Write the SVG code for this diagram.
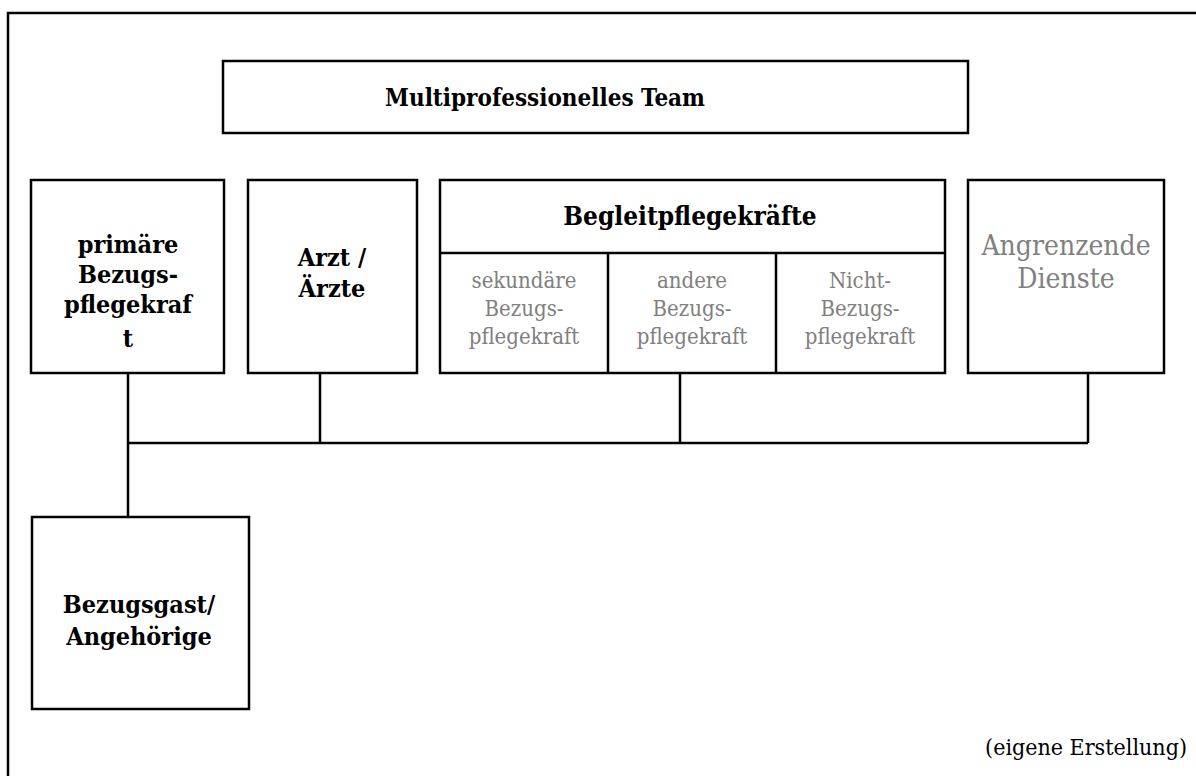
<svg xmlns="http://www.w3.org/2000/svg" width="1196" height="776" viewBox="0 0 1196 776">
<style>
.box{fill:#fff;stroke:#000;stroke-width:2.5}
.ln{fill:none;stroke:#000;stroke-width:2.5}
text{font-family:'DejaVu Serif Condensed','DejaVu Serif',serif;font-stretch:condensed}
.b{font-weight:bold;font-size:25px;fill:#000;text-anchor:middle}
.g{font-size:22px;fill:#808080;text-anchor:middle}
.g2{font-size:28px;fill:#808080;text-anchor:middle}
.n{font-size:23px;fill:#000;text-anchor:end}
</style>
<rect x="0" y="0" width="1196" height="776" fill="#fff"/>
<rect x="8" y="13" width="1200" height="800" class="box"/>
<g id="connectors">
<path class="ln" d="M128 373V517M128 443H1088M320 373V443M680 373V443M1088 373V443"/>
</g>
<g id="team">
<rect x="223" y="61" width="745" height="72" class="box"/>
<text x="545" y="106" class="b" style="font-size:24px">Multiprofessionelles Team</text>
</g>
<g id="primaer">
<rect x="31" y="180" width="193" height="193" class="box"/>
<text class="b" x="128" y="253">primäre</text>
<text class="b" x="128" y="283">Bezugs-</text>
<text class="b" x="128" y="313">pflegekraf</text>
<text class="b" x="128" y="347">t</text>
</g>
<g id="arzt">
<rect x="248" y="180" width="169" height="193" class="box"/>
<text class="b" x="332" y="266">Arzt /</text>
<text class="b" x="332" y="297">Ärzte</text>
</g>
<g id="begleit">
<rect x="440" y="180" width="505" height="193" class="box"/>
<path class="ln" d="M440 253H945M608 253V373M776 253V373"/>
<text class="b" x="690" y="225" style="font-size:26px">Begleitpflegekräfte</text>
<text class="g" x="524" y="288">sekundäre</text>
<text class="g" x="524" y="316">Bezugs-</text>
<text class="g" x="524" y="344">pflegekraft</text>
<text class="g" x="692" y="288">andere</text>
<text class="g" x="692" y="316">Bezugs-</text>
<text class="g" x="692" y="344">pflegekraft</text>
<text class="g" x="860" y="288">Nicht-</text>
<text class="g" x="860" y="316">Bezugs-</text>
<text class="g" x="860" y="344">pflegekraft</text>
</g>
<g id="dienste">
<rect x="968" y="180" width="196" height="193" class="box"/>
<text class="g2" x="1066" y="255">Angrenzende</text>
<text class="g2" x="1066" y="288">Dienste</text>
</g>
<g id="gast">
<rect x="32" y="517" width="217" height="192" class="box"/>
<text class="b" x="139" y="613">Bezugsgast/</text>
<text class="b" x="139" y="645">Angehörige</text>
</g>
<text class="n" x="1187" y="755">(eigene Erstellung)</text>
</svg>
